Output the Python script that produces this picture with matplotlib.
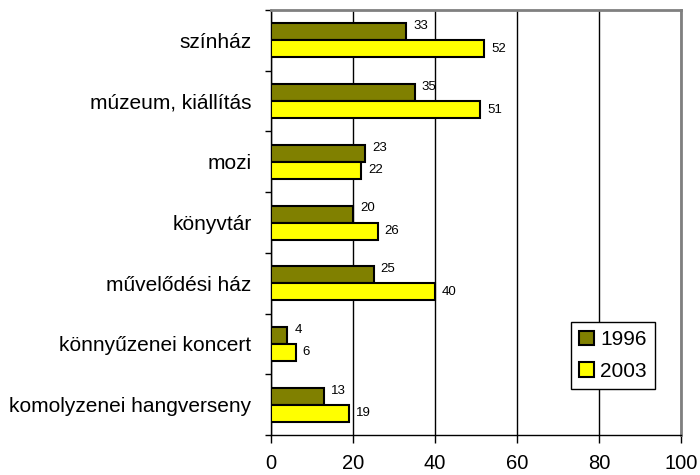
import matplotlib
matplotlib.use("Agg")
import matplotlib.pyplot as plt
import numpy as np

plt.rcParams['font.family'] = ['Liberation Sans', 'DejaVu Sans']

categories = ["színház", "múzeum, kiállítás", "mozi", "könyvtár",
              "művelődési ház", "könnyűzenei koncert", "komolyzenei hangverseny"]
values_1996 = [33, 35, 23, 20, 25, 4, 13]
values_2003 = [52, 51, 22, 26, 40, 6, 19]
series_labels = ["1996", "2003"]
x_ticks = [0, 20, 40, 60, 80, 100]

fig = plt.figure(figsize=(7, 4.75), dpi=100)
ax = fig.add_axes([271/700, 1-435/475, 410/700, 425/475])

y = np.arange(len(categories))
h = 0.28
b1 = ax.barh(y - h/2, values_1996, height=h, color="#808000", edgecolor="black",
             linewidth=1.5, label=series_labels[0], zorder=3)
b2 = ax.barh(y + h/2, values_2003, height=h, color="#FFFF00", edgecolor="black",
             linewidth=1.5, label=series_labels[1], zorder=3)

for rect, v in zip(b1, values_1996):
    ax.annotate(str(v), (rect.get_width(), rect.get_y() + rect.get_height()/2),
                xytext=(5, 4), textcoords="offset points", ha="left", va="center",
                fontsize=9.5)
for rect, v in zip(b2, values_2003):
    ax.annotate(str(v), (rect.get_width(), rect.get_y() + rect.get_height()/2),
                xytext=(5, 0), textcoords="offset points", ha="left", va="center",
                fontsize=9.5)

ax.set_xlim(0, 100)
ax.set_ylim(len(categories) - 0.5, -0.5)
ax.set_xticks(x_ticks)
ax.set_xticklabels([str(t) for t in x_ticks], fontsize=14.5)
ax.tick_params(axis="x", length=6, width=1, pad=8, direction="out")

ax.set_yticks(np.arange(len(categories) + 1) - 0.5)
ax.set_yticklabels([])
ax.tick_params(axis="y", which="major", length=4.5, width=1, direction="out")
ax.set_yticks(y, minor=True)
ax.set_yticklabels(categories, minor=True, fontsize=15)
ax.tick_params(axis="y", which="minor", length=0, pad=14)

ax.xaxis.grid(True, color="black", linewidth=1, zorder=0)
ax.set_axisbelow(True)
for s in ["top", "right"]:
    ax.spines[s].set_color("#808080")
    ax.spines[s].set_linewidth(2)
for s in ["left", "bottom"]:
    ax.spines[s].set_color("black")
    ax.spines[s].set_linewidth(1)

leg = ax.legend(loc="lower left", bbox_to_anchor=(0.732, 0.108), borderaxespad=0,
                fontsize=15, fancybox=False, framealpha=1, edgecolor="black",
                handlelength=0.7, handleheight=0.7, handletextpad=0.3,
                borderpad=0.4, labelspacing=0.6)
leg.get_frame().set_linewidth(1)

fig.savefig("out.png", dpi=100)
